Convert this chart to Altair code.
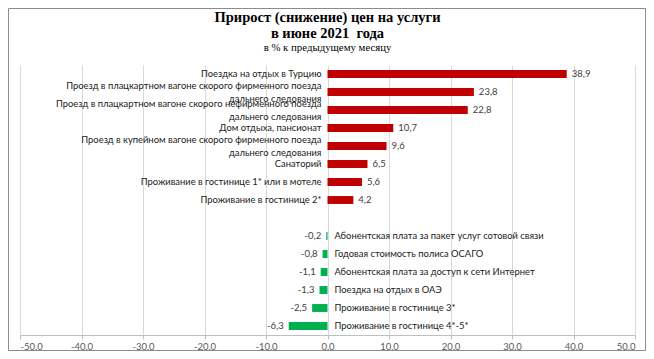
import altair as alt
import pandas as pd

title_lines = ["Прирост (снижение) цен на услуги", "в июне 2021\u00a0 года"]
subtitle_text = "в % к предыдущему месяцу"

pos_labels = [
    "Поездка на отдых в Турцию",
    "Проезд в плацкартном вагоне скорого фирменного поезда \nдальнего следования",
    "Проезд в плацкартном вагоне скорого нефирменного поезда \nдальнего следования",
    "Дом отдыха, пансионат",
    "Проезд в купейном вагоне скорого фирменного поезда \nдальнего следования",
    "Санаторий",
    "Проживание в гостинице 1* или в мотеле",
    "Проживание в гостинице 2*",
]
pos_values = [38.9, 23.8, 22.8, 10.7, 9.6, 6.5, 5.6, 4.2]

neg_labels = [
    "Абонентская плата за пакет услуг сотовой связи",
    "Годовая стоимость полиса ОСАГО",
    "Абонентская плата за доступ к сети Интернет",
    "Поездка на отдых в ОАЭ",
    "Проживание в гостинице 3*",
    "Проживание в гостинице 4*-5*",
]
neg_values = [-0.2, -0.8, -1.1, -1.3, -2.5, -6.3]

x_ticks = [-50, -40, -30, -20, -10, 0, 10, 20, 30, 40, 50]

rows = []
for i, (l, v) in enumerate(zip(pos_labels, pos_values)):
    rows.append({"slot": i, "label": l, "value": v, "sign": "pos",
                 "multi": "\n" in l, "vtext": f"{v:.1f}".replace(".", ",")})
for j, (l, v) in enumerate(zip(neg_labels, neg_values)):
    rows.append({"slot": len(pos_labels) + 1 + j, "label": l, "value": v, "sign": "neg",
                 "multi": "\n" in l, "vtext": f"{v:.1f}".replace(".", ",")})
df = pd.DataFrame(rows)
n_slots = len(pos_labels) + 1 + len(neg_labels)

FONT = "Lato"
W, H = 615, 270

xenc = alt.X("value:Q",
             scale=alt.Scale(domain=[-50, 50], nice=False),
             axis=alt.Axis(values=x_ticks, title=None, grid=True, gridColor="#d9d9d9",
                           domainColor="#bfbfbf", tickColor="#bfbfbf", tickSize=4,
                           labelExpr="replace(replace(format(datum.value, '.1f'), '.', ','), '\u2212', '-')",
                           labelFont=FONT, labelFontSize=9.5, labelColor="#595959",
                           labelPadding=2))
yenc = alt.Y("slot:O", scale=alt.Scale(domain=list(range(n_slots)), paddingInner=0.56,
                                      paddingOuter=0.28), axis=None)

bars = alt.Chart(df).mark_bar().encode(
    x=xenc, x2=alt.datum(0), y=yenc,
    color=alt.Color("sign:N", scale=alt.Scale(domain=["pos", "neg"], range=["#c00000", "#00b050"]),
                    legend=None),
)

pos_single = df[(df.sign == "pos") & (~df.multi)]
pos_multi = df[(df.sign == "pos") & (df.multi)]
pos_df = df[df.sign == "pos"]
neg_df = df[df.sign == "neg"]

LBL = dict(font=FONT, fontSize=9.4, color="#1a1a1a", baseline="middle", lineBreak="\n", lineHeight=13)

cat_pos1 = alt.Chart(pos_single).mark_text(align="right", dx=-6, **LBL).encode(
    x=alt.datum(0), y=yenc, text="label:N")
cat_pos2 = alt.Chart(pos_multi).mark_text(align="right", dx=-6, dy=-6.5, **LBL).encode(
    x=alt.datum(0), y=yenc, text="label:N")
cat_neg = alt.Chart(neg_df).mark_text(align="left", dx=7, **LBL).encode(
    x=alt.datum(0), y=yenc, text="label:N")
val_pos = alt.Chart(pos_df).mark_text(align="left", baseline="middle", dx=5,
                                      font=FONT, fontSize=9.5, color="#404040").encode(
    x="value:Q", y=yenc, text="vtext:N")
val_neg = alt.Chart(neg_df).mark_text(align="right", baseline="middle", dx=-5,
                                      font=FONT, fontSize=9.5, color="#404040").encode(
    x="value:Q", y=yenc, text="vtext:N")

one = pd.DataFrame({"t1": [title_lines[0]], "t2": [title_lines[1]], "st": [subtitle_text]})
TT = dict(font="Liberation Serif", fontSize=14.5, fontWeight="bold", color="#000000",
          align="center", baseline="middle")
title1 = alt.Chart(one).mark_text(**TT).encode(text="t1:N", x=alt.value(W / 2), y=alt.value(-47))
title2 = alt.Chart(one).mark_text(**TT).encode(text="t2:N", x=alt.value(W / 2), y=alt.value(-31))
subt = alt.Chart(one).mark_text(font="Liberation Serif", fontSize=10.8, color="#000000",
                                align="center", baseline="middle").encode(
    text="st:N", x=alt.value(W / 2), y=alt.value(-17))

frame = alt.Chart(one).mark_rect(fill=None, stroke="#8c8c8c", strokeWidth=1).encode(
    x=alt.value(-11.5), x2=alt.value(W + 10.5), y=alt.value(-56.5), y2=alt.value(H + 15.5))

chart = alt.layer(bars, cat_pos1, cat_pos2, cat_neg, val_pos, val_neg,
                  title1, title2, subt, frame).properties(
    width=W, height=H,
    autosize=alt.AutoSizeParams(type="none"),
    padding={"left": 12, "top": 57, "right": 11, "bottom": 16},
).configure_view(stroke=None)

chart.save("out.html", embed_options={"renderer": "svg", "actions": False})
